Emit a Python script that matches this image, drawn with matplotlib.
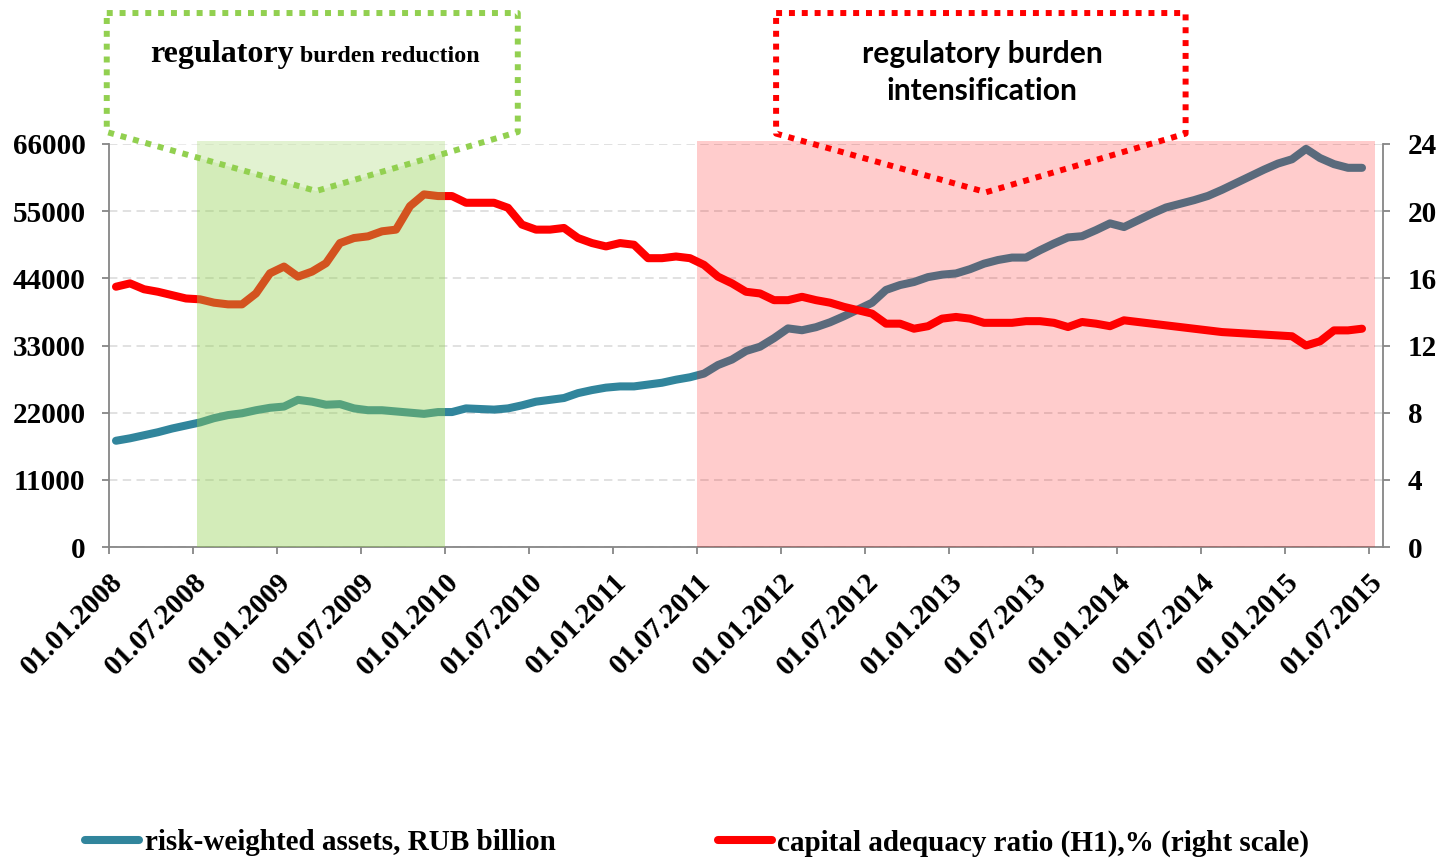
import numpy as np
import matplotlib
matplotlib.use('Agg')
import matplotlib.pyplot as plt
import matplotlib.transforms as mtransforms
from matplotlib.patches import Polygon
from matplotlib.lines import Line2D

# monthly values, 01.2008 .. 06.2015
rwa = [17400, 17800, 18300, 18800, 19400, 19900, 20400, 21100, 21600, 21900,
       22400, 22800, 23000, 24100, 23800, 23300, 23400, 22700, 22400, 22400,
       22200, 22000, 21800, 22100, 22100, 22700, 22600, 22500, 22700, 23200,
       23800, 24100, 24400, 25200, 25700, 26100, 26300, 26300, 26600, 26900,
       27400, 27800, 28400, 29800, 30700, 32100, 32800, 34200, 35800, 35500,
       36000, 36800, 37800, 38900, 40000, 42100, 42900, 43400, 44200, 44600,
       44800, 45500, 46400, 47000, 47400, 47400, 48600, 49700, 50700, 50900,
       51900, 53000, 52400, 53500, 54600, 55600, 56200, 56800, 57500, 58500,
       59600, 60700, 61800, 62800, 63500, 65200, 63700, 62700, 62100, 62100]

h1 = [15.5, 15.7, 15.35, 15.2, 15.0, 14.8, 14.75, 14.55, 14.45, 14.45,
      15.1, 16.3, 16.7, 16.1, 16.4, 16.9, 18.1, 18.4, 18.5, 18.8,
      18.9, 20.3, 21.0, 20.9, 20.9, 20.5, 20.5, 20.5, 20.2, 19.2,
      18.9, 18.9, 19.0, 18.4, 18.1, 17.9, 18.1, 18.0, 17.2, 17.2,
      17.3, 17.2, 16.8, 16.1, 15.7, 15.2, 15.1, 14.7, 14.7, 14.9,
      14.7, 14.55, 14.3, 14.1, 13.9, 13.3, 13.3, 13.0, 13.15, 13.6,
      13.7, 13.6, 13.35, 13.35, 13.35, 13.45, 13.45, 13.35, 13.1, 13.4,
      13.3, 13.15, 13.5, 13.4, 13.3, 13.2, 13.1, 13.0, 12.9, 12.8,
      12.75, 12.7, 12.65, 12.6, 12.55, 12.0, 12.25, 12.9, 12.9, 13.0]

tick_labels = ['01.01.2008', '01.07.2008', '01.01.2009', '01.07.2009',
               '01.01.2010', '01.07.2010', '01.01.2011', '01.07.2011',
               '01.01.2012', '01.07.2012', '01.01.2013', '01.07.2013',
               '01.01.2014', '01.07.2014', '01.01.2015', '01.07.2015']

left_ticks = [0, 11000, 22000, 33000, 44000, 55000, 66000]
right_ticks = [0, 4, 8, 12, 16, 20, 24]

# periods in months counted from 01.01.2008
green_period = (6.25, 24)
red_period = (42, 90.4)

plt.rcParams['font.family'] = 'Liberation Serif'
plt.rcParams['font.weight'] = 'bold'

months = np.arange(len(rwa)) + 0.5
grey = '#868686'

fig = plt.figure(figsize=(14.49, 8.59), dpi=100)
ax = fig.add_axes([109 / 1449, 1 - 547 / 859, 1274 / 1449, 403 / 859])
ax2 = ax.twinx()

ax.set_xlim(0, 91)
ax.set_ylim(0, 66000)
ax2.set_ylim(0, 24)

ax.grid(axis='y', color='#D9D9D9', ls=(0, (5.5, 3.5)), lw=1.1)
ax.set_axisbelow(True)

ax.plot(months, rwa, color='#31859C', lw=5.8, solid_joinstyle='round',
        solid_capstyle='round', zorder=3)
ax2.plot(months, h1, color='#FF0000', lw=5.8, solid_joinstyle='round',
         solid_capstyle='round', zorder=3)

# shaded periods on top of the lines
g = ax2.axvspan(*green_period, ymin=0, ymax=1.0075, color='#92D050', alpha=0.4,
                lw=0, zorder=5)
g.set_clip_on(False)
r = ax2.axvspan(*red_period, ymin=0, ymax=1.0075, color='#FF0000', alpha=0.2,
                lw=0, zorder=5)
r.set_clip_on(False)

# call-out shapes (x in months, y in left-axis units)
green_box = [(-0.16, 87450), (29.2, 87450), (29.2, 67960), (14.8, 58300), (-0.16, 67960)]
red_box = [(47.65, 87450), (76.9, 87450), (76.9, 67700), (62.65, 58100), (47.65, 67700)]

ax2.add_patch(Polygon(green_box, closed=True, transform=ax.transData,
                      facecolor=(1, 1, 1, 0.35), edgecolor='#92D050', lw=4.3,
                      ls=(0, (1.0, 1.15)), joinstyle='round', clip_on=False, zorder=6))
ax2.add_patch(Polygon(red_box, closed=True, transform=ax.transData,
                      facecolor='none', edgecolor='#FF0000', lw=4.3,
                      ls=(0, (1.0, 1.15)), joinstyle='round', clip_on=False, zorder=6))

fig.text(294 / 1449, 1 - 62 / 859, 'regulatory', ha='right', va='baseline',
         fontsize=23, family='Liberation Serif', weight='bold')
fig.text(300 / 1449, 1 - 62 / 859, 'burden reduction', ha='left', va='baseline',
         fontsize=17.3, family='Liberation Serif', weight='bold')
fig.text(982 / 1449, 1 - 63 / 859, 'regulatory burden', ha='center', va='baseline',
         fontsize=21.6, family='Lato', weight='bold')
fig.text(982 / 1449, 1 - 100 / 859, 'intensification', ha='center', va='baseline',
         fontsize=21.6, family='Lato', weight='bold')

# axes styling
for s in ['top', 'right']:
    ax.spines[s].set_visible(False)
for s in ['top', 'left', 'bottom']:
    ax2.spines[s].set_visible(False)
for sp in [ax.spines['left'], ax.spines['bottom'], ax2.spines['right']]:
    sp.set_color(grey)
    sp.set_linewidth(1.3)

ax.set_yticks(left_ticks)
ax.set_yticklabels([str(t) for t in left_ticks])
ax2.set_yticks(right_ticks)
ax2.set_yticklabels([str(t) for t in right_ticks])
ax.tick_params(axis='y', direction='out', length=5, width=1.3, color=grey,
               pad=12, labelsize=21)
ax2.tick_params(axis='y', direction='out', length=5, width=1.3, color=grey,
                pad=13, labelsize=21)

ax.set_xticks(np.arange(0, 91, 6))
ax.set_xticklabels(tick_labels, rotation=45, ha='right', va='top',
                   rotation_mode='anchor')
ax.tick_params(axis='x', direction='out', length=5, width=1.3, color=grey,
               pad=10, labelsize=21)
offset = mtransforms.ScaledTranslation(0, 0, fig.dpi_scale_trans)
for lab in ax.get_xticklabels():
    lab.set_transform(lab.get_transform() + offset)

handles = [Line2D([], [], color='#31859C', lw=5.8, solid_capstyle='round'),
           Line2D([], [], color='#FF0000', lw=5.8, solid_capstyle='round')]
fig.legend(handles, ['risk-weighted assets, RUB billion',
                     'capital adequacy ratio (H1),% (right scale)'],
           loc='center left', bbox_to_anchor=(85 / 1449, 1 - 843 / 859),
           ncol=2, frameon=False, fontsize=21, handlelength=1.85,
           handletextpad=0.2, columnspacing=5.55, borderpad=0, borderaxespad=0)

fig.savefig('out.png', dpi=100)
